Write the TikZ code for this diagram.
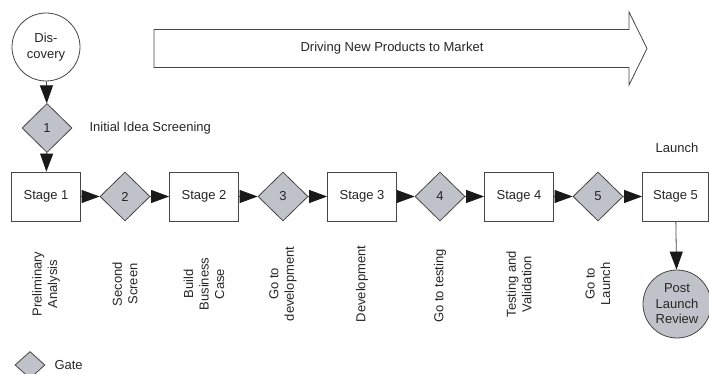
\documentclass[tikz,border=0pt]{standalone}
\usepackage{fontspec}
\setmainfont{Liberation Sans}
\usetikzlibrary{shapes.geometric,arrows.meta}
\definecolor{gatefill}{RGB}{192,194,201}
\definecolor{edge}{RGB}{70,70,70}
\definecolor{headcol}{RGB}{25,25,25}
\begin{document}
\begin{tikzpicture}[x=1pt,y=-1pt,
  every node/.style={font=\fontsize{13}{15.5}\selectfont, text=black!85},
  stagebox/.style={draw=edge, line width=0.8pt, fill=white, minimum width=69pt, minimum height=49pt, inner sep=0pt},
  gatebox/.style={diamond, draw=edge, line width=0.8pt, fill=gatefill, minimum width=50pt, minimum height=49pt, inner sep=0pt},
  roundbox/.style={circle, draw=edge, line width=0.8pt, minimum size=68pt, inner sep=0pt, align=center},
  flow/.style={draw=edge, line width=0.8pt, -{Triangle[length=18pt,width=13pt,fill=headcol,color=headcol]}, shorten >=0pt},
  steplabel/.style={rotate=90, align=center, anchor=center}
]
\useasboundingbox (0,0) rectangle (709,374);

% banner arrow
\draw[edge, line width=0.8pt, fill=white]
  (154,29.5) -- (629,29.5) -- (629,12) -- (647,48.5) -- (629,85) -- (629,67.5) -- (154,67.5) -- cycle;
\node (banner) at (392,48.5) {Driving New Products to Market};

% discovery and first gate
\node[roundbox, fill=white] (disc) at (46,47) {Dis-\\covery};
\node[gatebox] (g1) at (47,128) {1};
\node[anchor=west] (g1lbl) at (86,128) {Initial Idea Screening};

% stages and gates
\node[stagebox] (s1) at (46,196.5) {Stage 1};
\node[gatebox] (g2) at (125,196.5) {2};
\node[stagebox] (s2) at (204,196.5) {Stage 2};
\node[gatebox] (g3) at (283,196.5) {3};
\node[stagebox] (s3) at (362,196.5) {Stage 3};
\node[gatebox] (g4) at (440,196.5) {4};
\node[stagebox] (s4) at (519,196.5) {Stage 4};
\node[gatebox] (g5) at (598,196.5) {5};
\node[stagebox, minimum width=66pt] (s5) at (675.5,196.5) {Stage 5};
\node (launch) at (677,148) {Launch};

\node[roundbox, fill=gatefill] (post) at (677,304) {Post\\Launch\\Review};

% connectors
\draw[flow] (disc) -- (g1);
\draw[flow] (g1) -- (s1);
\draw[flow] (s1) -- (g2);
\draw[flow] (g2) -- (s2);
\draw[flow] (s2) -- (g3);
\draw[flow] (g3) -- (s3);
\draw[flow] (s3) -- (g4);
\draw[flow] (g4) -- (s4);
\draw[flow] (s4) -- (g5);
\draw[flow] (g5) -- (s5);
\draw[flow] (s5) -- (post);

% step descriptions
\node[steplabel] (l1) at (46,284) {Preliminary\\Analysis};
\node[steplabel] (l2) at (125,284) {Second\\Screen};
\node[steplabel] (l3) at (204,284) {Build\\Business\\Case};
\node[steplabel] (l4) at (283,284) {Go to\\development};
\node[steplabel] (l5) at (362,284) {Development};
\node[steplabel] (l6) at (440,286) {Go to testing};
\node[steplabel] (l7) at (519,284) {Testing and\\Validation};
\node[steplabel] (l8) at (598,284) {Go to\\Launch};

% legend
\node[gatebox, minimum width=30pt, minimum height=27pt] (leg) at (30,365) {};
\node[anchor=west] (leglbl) at (51,365) {Gate};
\end{tikzpicture}
\end{document}
